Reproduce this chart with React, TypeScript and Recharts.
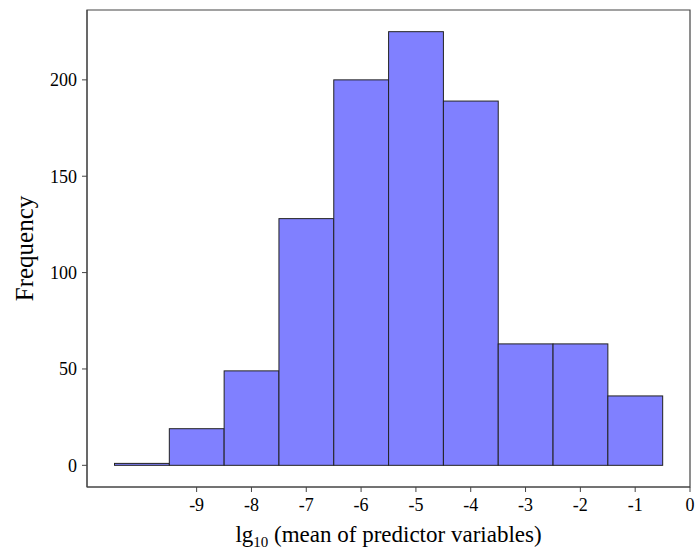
import { BarChart, Bar, XAxis, YAxis, ReferenceArea, Label } from 'recharts';

// bin centres of the histogram (log10 of the mean) and their counts
const binCenters = [-10, -9, -8, -7, -6, -5, -4, -3, -2, -1];
const counts = [1, 19, 49, 128, 200, 225, 189, 63, 63, 36];

const xTicks = [-9, -8, -7, -6, -5, -4, -3, -2, -1, 0];
const yTicks = [0, 50, 100, 150, 200];
const xDomain = [-11, 0];
const yDomain = [-11.25, 236.25];

const data = binCenters.map((x, i) => ({ x, count: counts[i] }));

const FONT = '"Liberation Serif", "Times New Roman", serif';
const FRAME = '#444';

const W = 697;
const H = 558;
const LEFT = 87;
const RIGHT = 7;
const TOP = 10;
const BOTTOM = 71;
const binWidth = (W - LEFT - RIGHT) / 11;

// histogram bins touch each other: draw each bar one full bin wide
const HistBar = ({ x, y, width, height }: any) => {
  const cx = x + width / 2;
  return (
    <rect
      x={cx - binWidth / 2}
      y={y}
      width={binWidth}
      height={height}
      fill="#8080ff"
      stroke="#222"
      strokeWidth={1}
    />
  );
};

const XLabel = ({ viewBox }: any) => {
  const cx = viewBox.x + viewBox.width / 2;
  return (
    <text x={cx} y={542} textAnchor="middle" fontFamily={FONT} fontSize={23} fill="#000">
      lg
      <tspan fontSize={15} dy={5}>10</tspan>
      <tspan dy={-5}> (mean of predictor variables)</tspan>
    </text>
  );
};

const YLabel = ({ viewBox }: any) => {
  const cy = viewBox.y + viewBox.height / 2;
  return (
    <text
      x={0}
      y={0}
      transform={`translate(33, ${cy}) rotate(-90)`}
      textAnchor="middle"
      fontFamily={FONT}
      fontSize={25}
      fill="#000"
    >
      Frequency
    </text>
  );
};

export default function App() {
  return (
    <div style={{ position: 'absolute', left: 0, top: 0, background: '#fff' }}>
      <BarChart
        width={W}
        height={H}
        data={data}
        margin={{ top: TOP, right: RIGHT, left: 0, bottom: 0 }}
        barCategoryGap={0}
        barGap={0}
      >
        <XAxis
          type="number"
          dataKey="x"
          domain={xDomain}
          ticks={xTicks}
          allowDataOverflow
          height={BOTTOM}
          tickSize={5}
          tickMargin={6}
          stroke={FRAME}
          tick={{ fill: '#000', fontSize: 18, fontFamily: FONT }}
        >
          <Label content={<XLabel />} />
        </XAxis>
        <YAxis
          type="number"
          domain={yDomain}
          ticks={yTicks}
          allowDataOverflow
          width={LEFT}
          tickSize={5}
          tickMargin={5}
          stroke={FRAME}
          tick={{ fill: '#000', fontSize: 18, fontFamily: FONT }}
        >
          <Label content={<YLabel />} />
        </YAxis>
        <Bar
          dataKey="count"
          shape={<HistBar />}
          isAnimationActive={false}
        />
        <ReferenceArea
          x1={xDomain[0]}
          x2={xDomain[1]}
          y1={yDomain[0]}
          y2={yDomain[1]}
          fill="none"
          stroke={FRAME}
          strokeWidth={1.2}
          ifOverflow="visible"
        />
      </BarChart>
    </div>
  );
}
